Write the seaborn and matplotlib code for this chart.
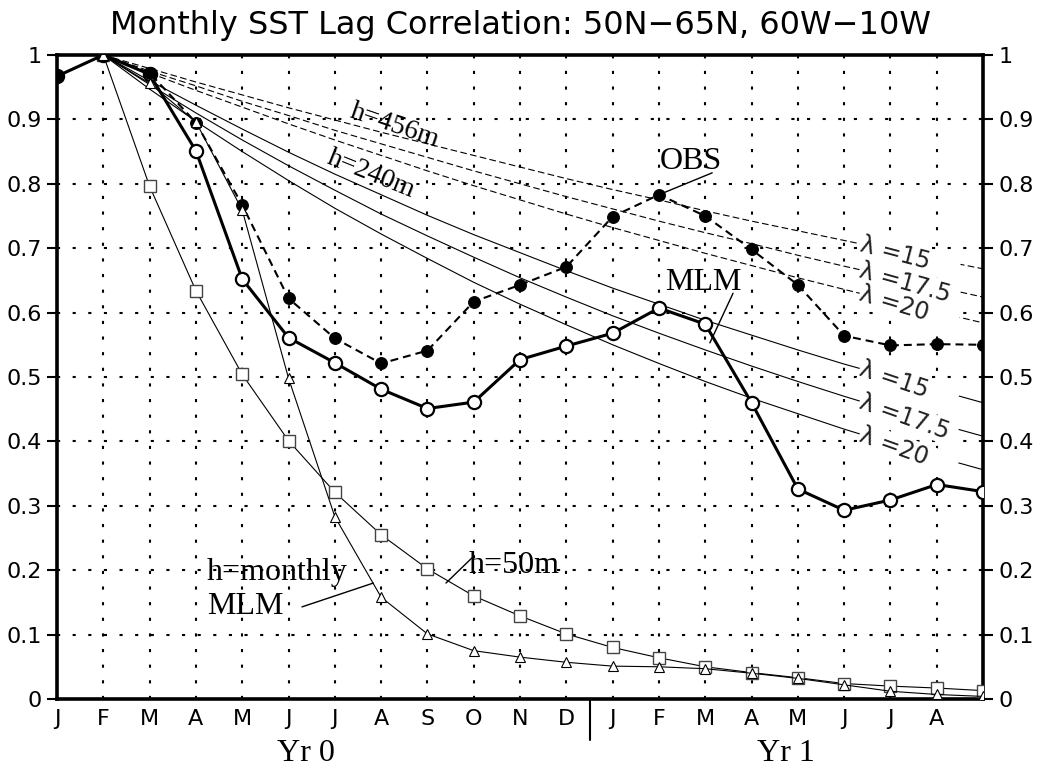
import numpy as np
import seaborn as sns
import matplotlib.pyplot as plt
from matplotlib.ticker import FuncFormatter

# ---- data ----
month_labels = ['J', 'F', 'M', 'A', 'M', 'J', 'J', 'A', 'S', 'O', 'N', 'D',
                'J', 'F', 'M', 'A', 'M', 'J', 'J', 'A']
lag = list(range(21))            # J (Yr 0) ... S (Yr 1)
lag_model = list(range(1, 21))   # model curves start at F

obs = [0.967, 1.0, 0.972, 0.895, 0.767, 0.622, 0.560, 0.521, 0.541, 0.617, 0.643,
       0.671, 0.749, 0.783, 0.750, 0.698, 0.643, 0.564, 0.549, 0.551, 0.550]
mlm = [0.967, 1.0, 0.970, 0.851, 0.652, 0.561, 0.522, 0.481, 0.451, 0.461, 0.527,
       0.548, 0.568, 0.607, 0.582, 0.460, 0.326, 0.293, 0.309, 0.333, 0.322]
h50 = [1.0, 0.796, 0.634, 0.504, 0.401, 0.321, 0.255, 0.202, 0.160, 0.129,
       0.101, 0.080, 0.064, 0.050, 0.041, 0.033, 0.024, 0.020, 0.017, 0.013]
h_monthly = [1.0, 0.956, 0.896, 0.759, 0.498, 0.283, 0.158, 0.101, 0.075, 0.065,
             0.057, 0.051, 0.050, 0.047, 0.040, 0.032, 0.022, 0.012, 0.007, 0.004]

# h=456m (dashed)
h456_l15 = [1.0, 0.979, 0.958, 0.938, 0.918, 0.899, 0.880, 0.862, 0.844, 0.826,
            0.808, 0.791, 0.775, 0.758, 0.742, 0.727, 0.712, 0.697, 0.682, 0.668]
h456_l175 = [1.0, 0.975, 0.952, 0.928, 0.906, 0.883, 0.862, 0.841, 0.820, 0.800,
             0.780, 0.761, 0.742, 0.724, 0.707, 0.689, 0.672, 0.656, 0.640, 0.624]
h456_l20 = [1.0, 0.972, 0.945, 0.919, 0.893, 0.868, 0.844, 0.820, 0.797, 0.775,
            0.753, 0.732, 0.712, 0.692, 0.673, 0.654, 0.636, 0.618, 0.601, 0.584]
# h=240m (solid)
h240_l15 = [1.0, 0.960, 0.922, 0.885, 0.849, 0.815, 0.783, 0.751, 0.721, 0.693,
            0.665, 0.638, 0.613, 0.588, 0.565, 0.542, 0.520, 0.500, 0.480, 0.460]
h240_l175 = [1.0, 0.954, 0.910, 0.868, 0.828, 0.790, 0.753, 0.719, 0.686, 0.654,
             0.624, 0.595, 0.568, 0.542, 0.517, 0.493, 0.470, 0.448, 0.428, 0.408]
h240_l20 = [1.0, 0.947, 0.897, 0.850, 0.805, 0.762, 0.722, 0.684, 0.647, 0.613,
            0.581, 0.550, 0.521, 0.493, 0.467, 0.443, 0.419, 0.397, 0.376, 0.356]

lambda_labels = ['\u03bb =15', '\u03bb =17.5', '\u03bb =20']
label_pad = ['    ', ' ', '    ']

# ---- style ----
sns.set_style('ticks')
plt.rcParams['font.family'] = ['DejaVu Sans']
plt.rcParams['text.color'] = 'k'
plt.rcParams['xtick.color'] = 'k'
plt.rcParams['ytick.color'] = 'k'
plt.rcParams['axes.labelcolor'] = 'k'
serif = ['Liberation Serif', 'DejaVu Serif']

fig, ax = plt.subplots(figsize=(10.37, 7.71), dpi=100)
fig.subplots_adjust(left=0.055, right=0.948, bottom=0.0934, top=0.9287)

# theoretical decay curves
curves = [(h456_l15, (0, (6, 3))), (h456_l175, (0, (6, 3))), (h456_l20, (0, (6, 3))),
          (h240_l15, '-'), (h240_l175, '-'), (h240_l20, '-')]
for vals, ls in curves:
    sns.lineplot(x=lag_model, y=vals, ax=ax, color='k', lw=0.8, linestyle=ls, zorder=2)

# data curves
sns.lineplot(x=lag_model, y=h50, ax=ax, color='k', lw=0.8, marker='s', markersize=8,
             markerfacecolor='white', markeredgecolor='#444444', markeredgewidth=1.0, zorder=3)
sns.lineplot(x=lag, y=mlm, ax=ax, color='k', lw=2.2, marker='o', markersize=9.5,
             markerfacecolor='white', markeredgecolor='k', markeredgewidth=1.6, zorder=4)
sns.lineplot(x=lag, y=obs, ax=ax, color='k', lw=1.5, linestyle=(0, (3.8, 2.4)), marker='o',
             markersize=8.5, markerfacecolor='k', markeredgecolor='k', zorder=4.5)
sns.lineplot(x=lag_model, y=h_monthly, ax=ax, color='k', lw=0.8, marker='^', markersize=7,
             markerfacecolor='white', markeredgecolor='k', markeredgewidth=0.8, zorder=5)

# axes
ax.set_xlim(0, 20)
ax.set_ylim(0, 1)
ax.set_xticks(range(len(month_labels)))
ax.set_xticklabels(month_labels, fontsize=16)
ax.set_yticks(np.arange(0, 1.01, 0.1))
ax.yaxis.set_major_formatter(FuncFormatter(lambda v, _: f'{round(v, 1):g}'))
ax.tick_params(axis='y', which='both', direction='out', length=7, width=1.5,
               labelsize=16, right=True, labelright=True, pad=4, colors='k')
ax.tick_params(axis='x', length=0, pad=7, colors='k')
for sp in ax.spines.values():
    sp.set_visible(True)
    sp.set_linewidth(2.6)
    sp.set_color('k')
ax.set_axisbelow(True)
ax.grid(True, color='k', linestyle=(0, (1.5, 6)), linewidth=1.5)
ax.set_xlabel('')
ax.set_ylabel('')

ax.set_title('Monthly SST Lag Correlation: 50N\u221265N, 60W\u221210W',
             fontsize=23, pad=15, color='k')

# lambda labels that break the theoretical curves
fig.canvas.draw()
x_lab = 17.35
for i, (vals, ls) in enumerate(curves):
    y_lab = np.interp(x_lab, lag_model, vals)
    y_next = np.interp(x_lab + 1, lag_model, vals)
    p0 = ax.transData.transform((x_lab, y_lab))
    p1 = ax.transData.transform((x_lab + 1, y_next))
    ang = np.degrees(np.arctan2(p1[1] - p0[1], p1[0] - p0[0])) - 3
    ax.text(x_lab, y_lab, lambda_labels[i % 3] + label_pad[i % 3], fontsize=17,
            color='#222222', ha='left', va='center',
            rotation=ang, rotation_mode='anchor', zorder=2.5,
            bbox=dict(facecolor='white', edgecolor='none', pad=0.5))

# curve labels
ax.text(7.30, 0.890, 'h=456m', family=serif, fontsize=20, rotation=-19,
        ha='center', va='center', zorder=2.6)
ax.text(6.78, 0.814, 'h=240m', family=serif, fontsize=20, rotation=-22,
        ha='center', va='center', zorder=2.6)
ax.text(13.69, 0.835, 'OBS', family=serif, fontsize=23, ha='center', va='center', zorder=6)
ax.plot([14.15, 13.0], [0.817, 0.783], color='k', lw=1.0, zorder=6)
ax.text(13.95, 0.646, 'MLM', family=serif, fontsize=23, ha='center', va='center', zorder=6)
ax.plot([14.6, 14.1], [0.630, 0.553], color='k', lw=1.0, zorder=6)
ax.text(9.87, 0.207, 'h=50m', family=serif, fontsize=23, ha='center', va='center', zorder=6)
ax.plot([8.96, 8.40], [0.219, 0.180], color='k', lw=1.0, zorder=6)
ax.text(3.24, 0.197, 'h=monthly', family=serif, fontsize=23, ha='left', va='center', zorder=6)
ax.text(3.24, 0.143, 'MLM', family=serif, fontsize=23, ha='left', va='center', zorder=6)
ax.plot([5.29, 6.83], [0.143, 0.180], color='k', lw=1.0, zorder=6)

# year divider and labels
ax.axvline(11.5, ymin=-0.064, ymax=0, color='k', lw=1.5, clip_on=False)
ax.text(5.38, -0.084, 'Yr 0', family=serif, fontsize=23, ha='center', va='center')
ax.text(15.75, -0.084, 'Yr 1', family=serif, fontsize=23, ha='center', va='center')

fig.savefig('out.png', dpi=100)
